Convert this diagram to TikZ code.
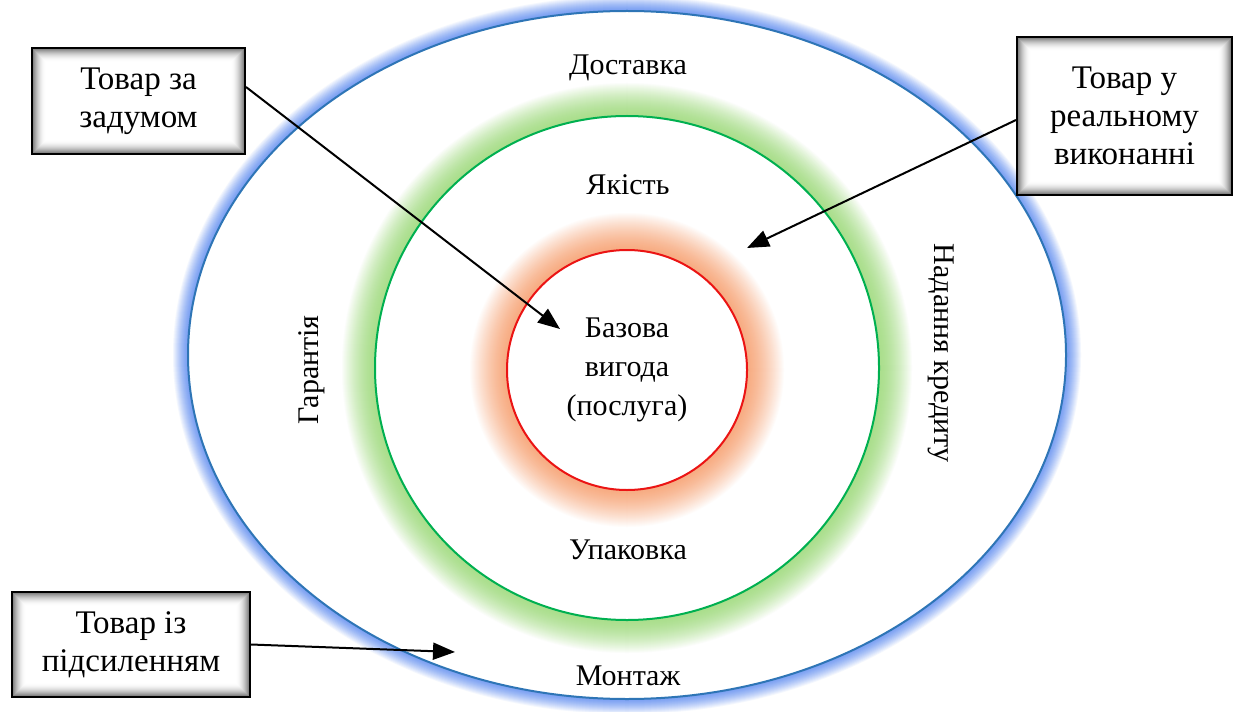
\documentclass[tikz,border=0pt]{standalone}
\usepackage{fontspec}
\setmainfont{Liberation Serif}
\usetikzlibrary{arrows.meta,calc}
\definecolor{ringblue}{RGB}{46,117,182}
\definecolor{glowblue}{RGB}{120,158,242}
\definecolor{ringgreen}{RGB}{0,176,80}
\definecolor{glowgreen}{RGB}{170,222,140}
\definecolor{ringred}{RGB}{235,20,20}
\definecolor{glowor}{RGB}{247,172,130}
\tikzset{
  lbl/.style={font=\fontsize{15}{19.5}\selectfont, align=center, inner sep=0pt},
  tbox/.style={draw=black, line width=1pt, fill=white, align=center,
    font=\fontsize{16.5}{19}\selectfont, inner sep=0pt,
    path picture={
      \foreach \i in {0,...,13}{
        \pgfmathsetmacro{\op}{0.55*(1-\i/14)*(1-\i/14)}
        \draw[black, draw opacity=\op, line width=0.5pt]
          ([shift={(\i*0.5pt+0.25pt,-\i*0.5pt-0.25pt)}]path picture bounding box.north west)
          rectangle
          ([shift={(-\i*0.5pt-0.25pt,\i*0.5pt+0.25pt)}]path picture bounding box.south east);
      }
    }},
  arr/.style={line width=1pt, -{Triangle[length=11pt,width=8.5pt]}}
}
\begin{document}
\begin{tikzpicture}[x=0.5pt,y=-0.5pt]
\useasboundingbox (0,0) rectangle (1240,711);
\fill[white] (0,0) rectangle (1240,711);
% outer ellipse with glow
\foreach \i in {15,14,...,1}{
  \pgfmathsetmacro{\p}{100*(1-(\i/16)^1.4)}
  \fill[glowblue!\p!white] (627,355) ellipse [x radius={439+\i}, y radius={344+\i}];
}
\draw[ringblue, line width=1pt, fill=white] (627,355) ellipse [x radius=439, y radius=344];
% green ring with glow
\foreach \i in {33,32,...,1}{
  \pgfmathsetmacro{\p}{100*(1-(\i/34)^1.6)}
  \fill[glowgreen!\p!white] (627,368) circle [radius={252+\i}];
}
\draw[ringgreen, line width=1pt, fill=white] (627,368) circle [radius=252];
% red ring with glow
\foreach \i in {37,36,...,1}{
  \pgfmathsetmacro{\p}{100*(1-(\i/38)^1.4)}
  \fill[glowor!\p!white] (627,370) circle [radius={120+\i}];
}
\draw[ringred, line width=1pt, fill=white] (627,370) circle [radius=120];
% labels
\node[lbl] (dost) at (628,68) {Доставка};
\node[lbl] (yak) at (628,185) {Якість};
\node[lbl] (baz) at (627,370) {Базова\\вигода\\(послуга)};
\node[lbl] (upak) at (628,550) {Упаковка};
\node[lbl] (mont) at (628,676) {Монтаж};
\node[lbl, rotate=90] (gar) at (312,370) {Гарантія};
\node[lbl, rotate=-90] (kred) at (941,353) {Надання кредиту};
% boxes
\node[tbox, minimum width=106.5pt, minimum height=53pt] (b1) at (138.5,101) {Товар за\\задумом};
\node[tbox, minimum width=107.5pt, minimum height=79pt] (b2) at (1124.5,116) {Товар у\\реальному\\виконанні};
\node[tbox, minimum width=119pt, minimum height=52.5pt] (b3) at (131,644.5) {Товар із\\підсиленням};
% arrow targets
\coordinate (t1) at (560,329);
\coordinate (t2) at (747,248);
\coordinate (t3) at (455,652);
\draw[arr] ([yshift=7pt]b1.east) -- (t1);
\draw[arr] ([yshift=-2pt]b2.west) -- (t2);
\draw[arr] (b3.east) -- (t3);
\end{tikzpicture}
\end{document}
